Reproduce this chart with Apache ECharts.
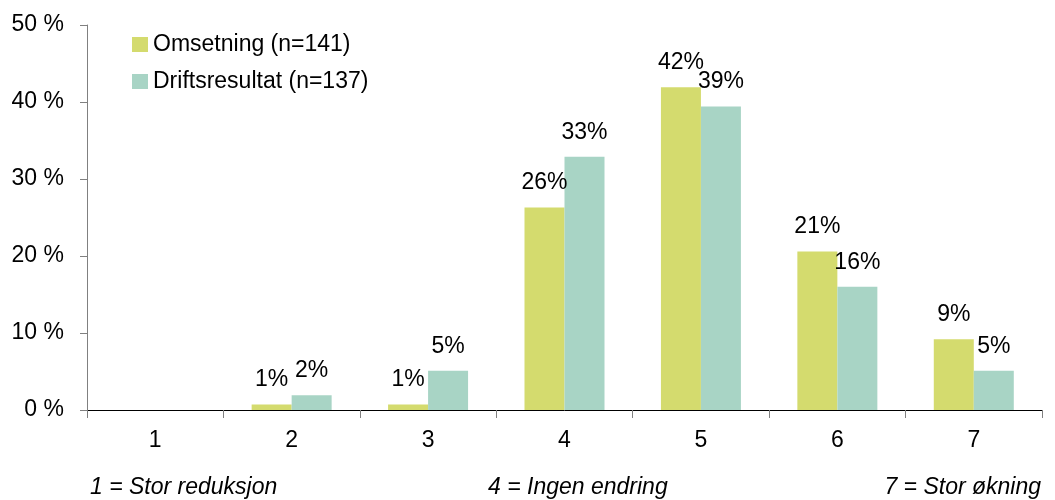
<!DOCTYPE html>
<html>
<head>
<meta charset="utf-8">
<script src="https://cdn.jsdelivr.net/npm/echarts@6/dist/echarts.min.js"></script>
<style>
html,body{margin:0;padding:0;background:#fff;}
#chart{width:1055px;height:500px;}
</style>
</head>
<body>
<div id="chart"></div>
<script>
const categories = ['1', '2', '3', '4', '5', '6', '7'];
const seriesNames = ['Omsetning (n=141)', 'Driftsresultat (n=137)'];
const omsetning = [0, 0.7, 0.7, 26.3, 41.9, 20.6, 9.2];
const driftsresultat = [0, 1.9, 5.1, 32.9, 39.4, 16.0, 5.1];
const footerTexts = ['1 = Stor reduksjon', '4 = Ingen endring', '7 = Stor økning'];

const FONT = 'Liberation Sans, Arial, sans-serif';
const FS = 23;
const chart = echarts.init(document.getElementById('chart'));

const labelCfg = {
  show: true,
  position: 'top',
  distance: 13,
  fontFamily: FONT,
  fontSize: FS,
  color: '#000',
  formatter: p => p.value > 0 ? Math.round(p.value) + '%' : ''
};

chart.setOption({
  animation: false,
  grid: { left: 87, right: 13, top: 25, bottom: 90 },
  legend: {
    orient: 'vertical',
    left: 127,
    top: 28,
    itemWidth: 16,
    itemHeight: 15,
    itemGap: 14,
    icon: 'rect',
    textStyle: { fontFamily: FONT, fontSize: FS, color: '#000' },
    data: seriesNames
  },
  xAxis: {
    type: 'category',
    data: categories,
    boundaryGap: true,
    axisLine: { lineStyle: { color: '#000', width: 1 } },
    axisTick: { show: true, length: 8, lineStyle: { color: '#808080' } },
    axisLabel: { fontFamily: FONT, fontSize: FS, color: '#000', margin: 19 }
  },
  yAxis: {
    type: 'value',
    min: 0,
    max: 50,
    interval: 10,
    splitLine: { show: false },
    axisLine: { show: true, lineStyle: { color: '#808080', width: 1 } },
    axisTick: { show: true, length: 7, lineStyle: { color: '#808080' } },
    axisLabel: { fontFamily: FONT, fontSize: FS, color: '#000', margin: 23, formatter: '{value} %' }
  },
  series: [
    {
      name: seriesNames[0],
      type: 'bar',
      data: omsetning,
      barWidth: 40,
      barGap: '0%',
      itemStyle: { color: '#D4DB6E' },
      label: labelCfg
    },
    {
      name: seriesNames[1],
      type: 'bar',
      data: driftsresultat,
      barWidth: 40,
      barGap: '0%',
      itemStyle: { color: '#A8D4C5' },
      label: labelCfg
    }
  ],
  graphic: [
    { type: 'text', left: 90, top: 476, style: { text: footerTexts[0], fontFamily: FONT, fontSize: FS, fontStyle: 'italic', fill: '#000' } },
    { type: 'text', left: 488, top: 476, style: { text: footerTexts[1], fontFamily: FONT, fontSize: FS, fontStyle: 'italic', fill: '#000' } },
    { type: 'text', right: 14, top: 476, style: { text: footerTexts[2], fontFamily: FONT, fontSize: FS, fontStyle: 'italic', fill: '#000' } }
  ]
});
</script>
</body>
</html>
